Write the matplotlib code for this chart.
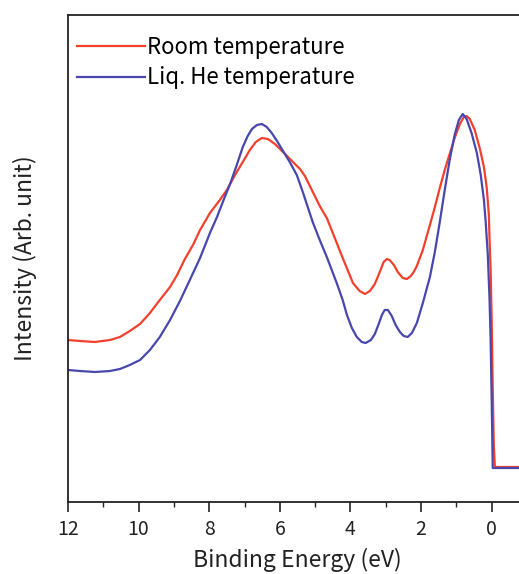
import matplotlib
matplotlib.use("Agg")
import matplotlib.pyplot as plt
from matplotlib.ticker import MultipleLocator

plt.rcParams['font.family'] = ['Noto Sans CJK JP', 'DejaVu Sans']

# Binding energy (eV) and intensity (arb. unit) for the two spectra
energy_room = [12.00, 11.66, 11.24, 10.81, 10.53, 10.25, 9.96, 9.68, 9.40, 9.11,
               8.91, 8.69, 8.46, 8.26, 7.98, 7.70, 7.50, 7.27, 7.05, 6.85,
               6.68, 6.51, 6.34, 6.14, 5.91, 5.63, 5.43, 5.29, 5.15, 4.87,
               4.67, 4.50, 4.22, 3.93, 3.74, 3.59, 3.45, 3.31, 3.17, 3.06,
               2.97, 2.89, 2.77, 2.66, 2.52, 2.40, 2.29, 2.21, 2.12, 1.95,
               1.75, 1.61, 1.47, 1.33, 1.19, 1.05, 0.90, 0.79, 0.71, 0.62,
               0.48, 0.34, 0.22, 0.14, 0.08, 0.06, 0.03, 0.00, -0.03, -0.06,
               -0.09, -0.30, -1.00]
intensity_room = [1.62, 1.61, 1.60, 1.62, 1.65, 1.71, 1.78, 1.89, 2.02, 2.15,
                  2.27, 2.43, 2.57, 2.72, 2.89, 3.02, 3.12, 3.27, 3.40, 3.52,
                  3.60, 3.64, 3.63, 3.58, 3.50, 3.40, 3.33, 3.26, 3.16, 2.96,
                  2.84, 2.69, 2.44, 2.19, 2.11, 2.08, 2.11, 2.18, 2.30, 2.40,
                  2.43, 2.42, 2.37, 2.30, 2.24, 2.23, 2.26, 2.30, 2.36, 2.52,
                  2.77, 2.95, 3.14, 3.32, 3.48, 3.64, 3.78, 3.85, 3.86, 3.83,
                  3.72, 3.54, 3.35, 3.14, 2.87, 2.62, 2.32, 1.82, 1.12, 0.57,
                  0.35, 0.35, 0.35]

energy_he = [12.00, 11.66, 11.24, 10.81, 10.53, 10.25, 9.96, 9.68, 9.40, 9.11,
             8.83, 8.55, 8.26, 7.98, 7.78, 7.56, 7.41, 7.22, 7.05, 6.91,
             6.79, 6.65, 6.51, 6.37, 6.23, 6.08, 5.91, 5.72, 5.52, 5.35,
             5.21, 5.07, 4.87, 4.67, 4.39, 4.22, 4.10, 3.96, 3.82, 3.68,
             3.57, 3.42, 3.31, 3.20, 3.11, 3.03, 2.94, 2.83, 2.72, 2.60,
             2.49, 2.38, 2.26, 2.12, 1.95, 1.75, 1.61, 1.47, 1.33, 1.19,
             1.05, 0.93, 0.82, 0.71, 0.57, 0.42, 0.31, 0.22, 0.17, 0.11,
             0.06, 0.03, 0.00, -0.03, -0.30, -1.00]
intensity_he = [1.32, 1.31, 1.30, 1.31, 1.33, 1.37, 1.42, 1.52, 1.65, 1.82,
                2.01, 2.22, 2.44, 2.69, 2.85, 3.05, 3.18, 3.37, 3.55, 3.66,
                3.73, 3.77, 3.78, 3.75, 3.69, 3.61, 3.51, 3.40, 3.27, 3.10,
                2.95, 2.80, 2.62, 2.45, 2.19, 2.02, 1.87, 1.74, 1.65, 1.60,
                1.59, 1.62, 1.68, 1.78, 1.87, 1.92, 1.92, 1.86, 1.77, 1.70,
                1.66, 1.65, 1.69, 1.79, 1.99, 2.25, 2.50, 2.80, 3.12, 3.42,
                3.67, 3.82, 3.88, 3.83, 3.69, 3.49, 3.27, 3.02, 2.80, 2.47,
                2.02, 1.62, 1.02, 0.34, 0.34, 0.34]

labels = ["Room temperature", "Liq. He temperature"]
colors = ["#f2402c", "#4747ad"]
text_color = '#222222'

fig = plt.figure(figsize=(5.19, 5.74), dpi=100)
ax = fig.add_axes([68 / 519, 72 / 574, 459 / 519, 487 / 574])

ax.plot(energy_room, intensity_room, color=colors[0], lw=1.6,
        solid_joinstyle='round', label=labels[0])
ax.plot(energy_he, intensity_he, color=colors[1], lw=1.6,
        solid_joinstyle='round', label=labels[1])

ax.set_xlim(12, -1)
ax.set_ylim(0, 4.87)
ax.xaxis.set_major_locator(MultipleLocator(2))
ax.xaxis.set_minor_locator(MultipleLocator(1))
ax.set_yticks([])
ax.tick_params(axis='x', which='major', direction='out', length=7, width=1.2,
               labelsize=14, pad=5, colors=text_color)
ax.tick_params(axis='x', which='minor', direction='out', length=3.5, width=1.0,
               colors=text_color)
for s in ax.spines.values():
    s.set_linewidth(1.3)
    s.set_color(text_color)

ax.set_xlabel("Binding Energy (eV)", fontsize=16.5, labelpad=6, color=text_color)
ax.set_ylabel("Intensity (Arb. unit)", fontsize=16.5, labelpad=22, color=text_color)

ax.legend(loc='upper left', frameon=False, fontsize=16, handlelength=3.05,
          handletextpad=0.12, borderaxespad=0.0, borderpad=0.3,
          labelspacing=0.32, bbox_to_anchor=(0.005, 0.97))

fig.savefig("out.png", dpi=100)
